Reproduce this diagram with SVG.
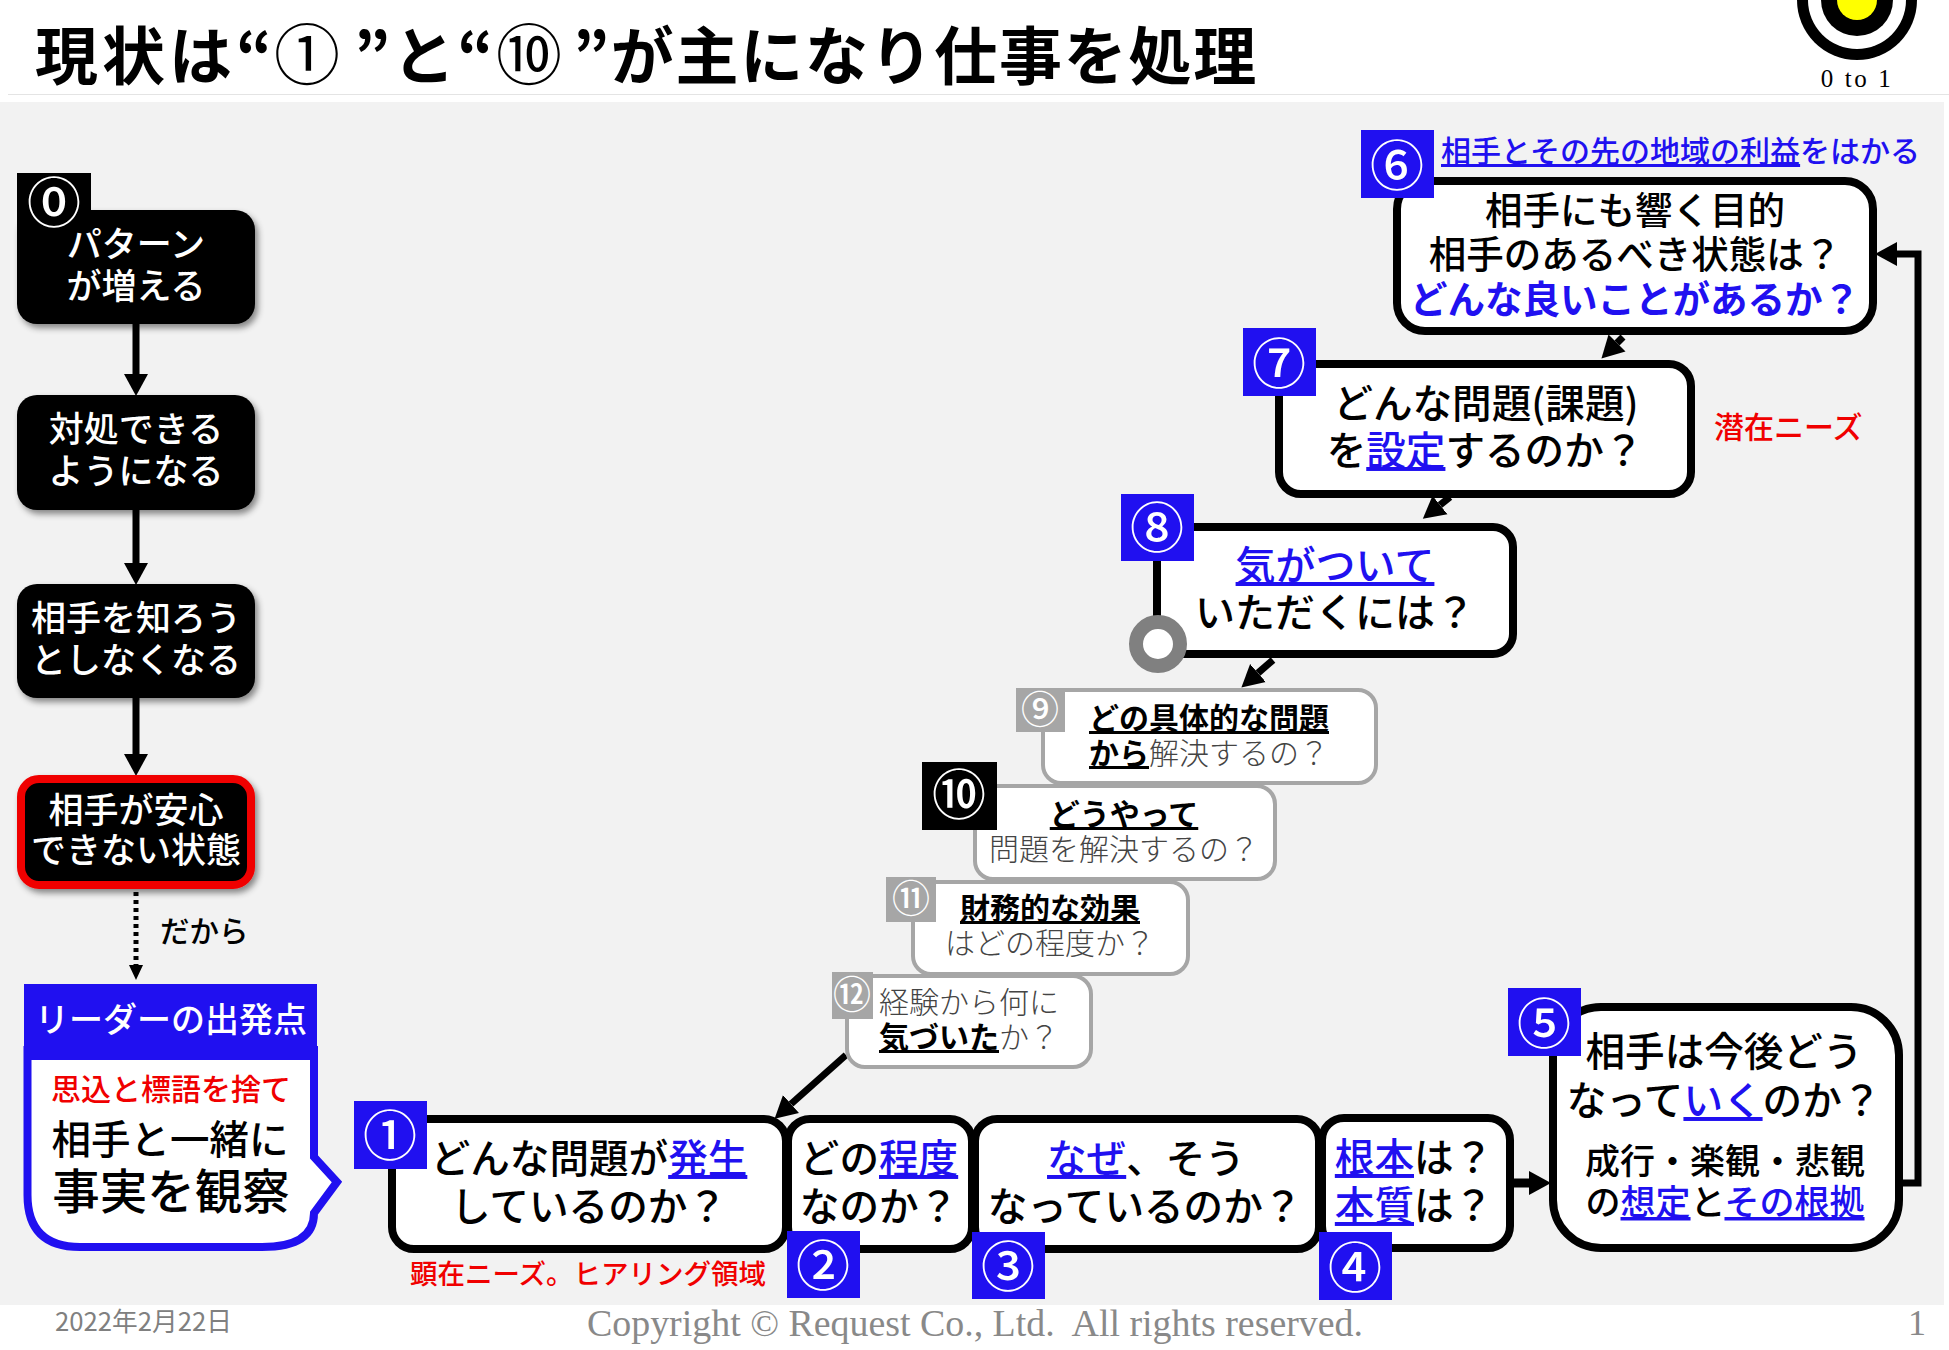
<svg xmlns="http://www.w3.org/2000/svg" width="1949" height="1350" viewBox="0 0 1949 1350">
<style>
text{font-family:"Noto Sans CJK JP","Noto Sans",sans-serif;fill:#000;font-weight:500}
.m{text-anchor:middle}
.u{text-decoration:underline;text-decoration-thickness:2px;text-underline-offset:4px;text-decoration-skip-ink:none}
.b{fill:#2010f0}
.r{fill:#f00000}
.w{fill:#fff}
.box{fill:#fff;stroke:#000;stroke-width:8}
.gbox{fill:#fff;stroke:#a6a6a6;stroke-width:4}
.blk{fill:#000;filter:url(#sh)}
.bb{fill:#2010f0}
.gb{fill:#a6a6a6}
.f38{font-size:39.6px}
.f30{font-size:30px}
.f33{font-size:35px}
.bd{font-size:54px;fill:#fff;text-anchor:middle}
.bs{font-size:38px;fill:#fff;text-anchor:middle}
.tb{font-weight:700}
.tl{font-weight:300;fill:#444}
.ln{fill:none;stroke:#000;stroke-width:7}
.tt{font-size:63px;font-weight:700}
.tc{font-size:66px;font-weight:400}
</style>
<defs>
<filter id="sh" x="-10%" y="-10%" width="125%" height="125%"><feDropShadow dx="3" dy="4" stdDeviation="3" flood-color="#000" flood-opacity="0.45"/></filter>
<marker id="a" markerUnits="userSpaceOnUse" markerWidth="24" markerHeight="26" refX="0" refY="13" orient="auto"><path d="M0 1L22 13L0 25Z"/></marker>
<marker id="s" markerUnits="userSpaceOnUse" markerWidth="16" markerHeight="16" refX="0" refY="8" orient="auto"><path d="M0 1L15 8L0 15Z"/></marker>
</defs>
<rect width="1949" height="1350" fill="#fff"/>
<rect x="8" y="94" width="1941" height="1" fill="#e4e4e4"/>
<rect x="0" y="102" width="1944" height="1203" fill="#f2f2f2"/>
<g id="title">
<text x="35" y="79" class="tt" letter-spacing="4">現状は“</text>
<text x="274" y="79" class="tc">①</text>
<text x="354" y="79" class="tt" letter-spacing="2">”と“</text>
<text x="496" y="79" class="tc">⑩</text>
<text x="573" y="79" class="tt" letter-spacing="1.7">”が主になり仕事を処理</text>
</g>
<g id="logo">
<circle cx="1857" cy="0" r="60" fill="#000"/><circle cx="1857" cy="0" r="49" fill="#fff"/><circle cx="1857" cy="0" r="36" fill="#000"/><circle cx="1857" cy="0" r="20" fill="#ff0"/>
<text x="1857" y="87" class="m" style="font-family:'Liberation Serif',serif;font-size:25px;font-weight:400" letter-spacing="2.6">0 to 1</text>
</g>
<g id="connectors">
<path class="ln" d="M136 324V374" marker-end="url(#a)"/>
<path class="ln" d="M136 510V563" marker-end="url(#a)"/>
<path class="ln" d="M136 698V754" marker-end="url(#a)"/>
<path class="ln" style="stroke-width:5;stroke-dasharray:4 4" d="M136 892V965" marker-end="url(#s)"/>
<path class="ln" d="M846 1055L791 1104" marker-end="url(#a)"/>
<path class="ln" d="M1273 660L1258 673" marker-end="url(#a)"/>
<path class="ln" d="M1450 497L1440 505" marker-end="url(#a)"/>
<path class="ln" d="M1623 337L1617 343" marker-end="url(#a)"/>
<path class="ln" style="stroke-width:9" d="M1514 1183H1529" marker-end="url(#a)"/>
<path class="ln" d="M1902 1183H1918V254H1897" marker-end="url(#a)"/>
</g>
<g id="n0"><rect class="blk" x="17" y="210" width="238" height="114" rx="20"/><rect x="17" y="173" width="74" height="60" fill="#000"/><text x="54" y="223" class="bd">⓪</text>
<text x="136" y="257" class="m w f33">パターン</text><text x="136" y="299" class="m w f33">が増える</text></g>
<g id="n0b"><rect class="blk" x="17" y="395" width="238" height="115" rx="20"/><text x="136" y="442" class="m w f33">対処できる</text><text x="136" y="484" class="m w f33">ようになる</text></g>
<g id="n0c"><rect class="blk" x="17" y="584" width="238" height="114" rx="20"/><text x="136" y="631" class="m w f33">相手を知ろう</text><text x="136" y="673" class="m w f33">としなくなる</text></g>
<g id="n0d"><rect x="21" y="779" width="230" height="106" rx="18" fill="#000" stroke="#f00000" stroke-width="8" filter="url(#sh)"/><text x="136" y="823" class="m w f33">相手が安心</text><text x="136" y="863" class="m w f33">できない状態</text></g>
<text x="160" y="942" style="font-size:29.5px">だから</text>
<g id="start">
<path d="M27.500 1050V1195Q27.500 1247 80 1247H262Q314 1247 314 1213L337 1182L314 1157V1050Z" fill="#fff" stroke="#2010f0" stroke-width="8"/>
<rect class="bb" x="24" y="984" width="293" height="76"/>
<text x="171" y="1032" class="m w" style="font-size:34px">リーダーの出発点</text>
<text x="171" y="1100" class="m r" style="font-size:30px">思込と標語を捨て</text>
<text x="170" y="1154" class="m" style="font-size:39.5px">相手と一緒に</text>
<text x="171" y="1209" class="m" style="font-size:47.500px">事実を観察</text>
</g>
<g id="n1"><rect class="box" x="392" y="1119" width="394" height="130" rx="22"/><rect class="bb" x="354" y="1101" width="73" height="68"/><text x="390" y="1156" class="bd">①</text>
<text x="589" y="1173" class="m f38">どんな問題が<tspan class="b u">発生</tspan></text><text x="589" y="1221" class="m f38">しているのか？</text></g>
<g id="n2"><rect class="box" x="788" y="1119" width="184" height="130" rx="22"/>
<text x="879" y="1173" class="m f38">どの<tspan class="b u">程度</tspan></text><text x="879" y="1221" class="m f38">なのか？</text><rect class="bb" x="787" y="1231" width="73" height="67"/><text x="823" y="1286" class="bd">②</text></g>
<g id="n3"><rect class="box" x="975" y="1119" width="344" height="130" rx="22"/>
<text x="1146" y="1173" class="m f38"><tspan class="b u">なぜ</tspan>、そう</text><text x="1145" y="1221" class="m f38">なっているのか？</text><rect class="bb" x="972" y="1232" width="73" height="67"/><text x="1008" y="1287" class="bd">③</text></g>
<g id="n4"><rect class="box" x="1322" y="1118" width="188" height="130" rx="22"/>
<text x="1414" y="1172" class="m f38"><tspan class="b u">根本</tspan>は？</text><text x="1414" y="1220" class="m f38"><tspan class="b u">本質</tspan>は？</text><rect class="bb" x="1319" y="1232" width="73" height="68"/><text x="1355" y="1288" class="bd">④</text></g>
<g id="n5"><rect class="box" x="1553" y="1007" width="346" height="241" rx="48"/>
<rect class="bb" x="1508" y="988" width="73" height="68"/><text x="1544" y="1044" class="bd">⑤</text>
<text x="1724" y="1066" class="m f38">相手は今後どう</text><text x="1724" y="1115" class="m f38">なって<tspan class="b u">いく</tspan>のか？</text>
<text x="1725" y="1174" class="m" style="font-size:35px">成行・楽観・悲観</text><text x="1725" y="1215" class="m" style="font-size:35px">の<tspan class="b u">想定</tspan>と<tspan class="b u">その根拠</tspan></text></g>
<g id="n6"><rect class="box" x="1397" y="181" width="476" height="150" rx="28"/><rect class="bb" x="1361" y="130" width="73" height="68"/><text x="1397" y="186" class="bd">⑥</text>
<text x="1441" y="162" class="b" style="font-size:30px"><tspan class="u">相手とその先の地域の利益</tspan>をはかる</text>
<text x="1635" y="224" class="m" style="font-size:37.500px">相手にも響く目的</text><text x="1635" y="268" class="m" style="font-size:37.500px">相手のあるべき状態は？</text><text x="1635" y="313" class="m b" style="font-size:37.500px;font-weight:700">どんな良いことがあるか？</text></g>
<g id="n7"><rect class="box" x="1279" y="364" width="412" height="130" rx="22"/><rect class="bb" x="1243" y="328" width="73" height="68"/><text x="1279" y="384" class="bd">⑦</text>
<text x="1486" y="418" class="m f38">どんな問題(課題)</text><text x="1485" y="465" class="m f38">を<tspan class="b u">設定</tspan>するのか？</text>
<text x="1714" y="438" class="r" style="font-size:30px">潜在ニーズ</text></g>
<g id="n8"><rect class="box" x="1157" y="527" width="356" height="127" rx="20"/>
<rect class="bb" x="1121" y="494" width="73" height="67"/><text x="1157" y="548" class="bd">⑧</text>
<text x="1335" y="580" class="m" style="font-size:40px"><tspan class="b u">気がついて</tspan></text><text x="1335" y="627" class="m" style="font-size:40px">いただくには？</text>
<circle cx="1158" cy="644" r="22" fill="#fff" stroke="#808080" stroke-width="14"/></g>
<g id="n9"><rect class="gbox" x="1043" y="690" width="333" height="93" rx="18"/><rect class="gb" x="1016" y="688" width="49" height="44"/><text x="1040" y="723" class="bs">⑨</text>
<text x="1209" y="729" class="m f30 tb u">どの具体的な問題</text><text x="1209" y="764" class="m f30"><tspan class="tb u">から</tspan><tspan class="tl">解決するの？</tspan></text></g>
<g id="n10"><rect class="gbox" x="975" y="786" width="300" height="93" rx="18"/><rect x="922" y="762" width="75" height="68" fill="#000"/><text x="959" y="815" class="bd">⑩</text>
<text x="1124" y="825" class="m f30 tb u">どうやって</text><text x="1124" y="860" class="m f30 tl">問題を解決するの？</text></g>
<g id="n11"><rect class="gbox" x="913" y="882" width="275" height="92" rx="18"/><rect class="gb" x="886" y="877" width="50" height="45"/><text x="911" y="912" class="bs">⑪</text>
<text x="1050" y="919" class="m f30 tb u">財務的な効果</text><text x="1050" y="954" class="m f30 tl">はどの程度か？</text></g>
<g id="n12"><rect class="gbox" x="847" y="976" width="244" height="91" rx="18"/><rect class="gb" x="832" y="972" width="41" height="47"/><text x="852" y="1008" class="bs">⑫</text>
<text x="879" y="1013" class="f30 tl">経験から何に</text><text x="879" y="1048" class="f30"><tspan class="tb u">気づいた</tspan><tspan class="tl">か？</tspan></text></g>
<text x="410" y="1284" class="r" style="font-size:27.500px">顕在ニーズ。ヒアリング領域</text>
<g id="footer">
<text x="55" y="1331" style="font-size:25.700px;fill:#808080;font-weight:400">2022年2月22日</text>
<text x="587" y="1336" style="font-family:'Liberation Serif',serif;font-size:37.900px;fill:#898989;font-weight:400">Copyright © Request Co., Ltd.&#160; All rights reserved.</text>
<text x="1908" y="1335" style="font-family:'Liberation Serif',serif;font-size:36px;fill:#898989;font-weight:400">1</text>
</g>
</svg>
